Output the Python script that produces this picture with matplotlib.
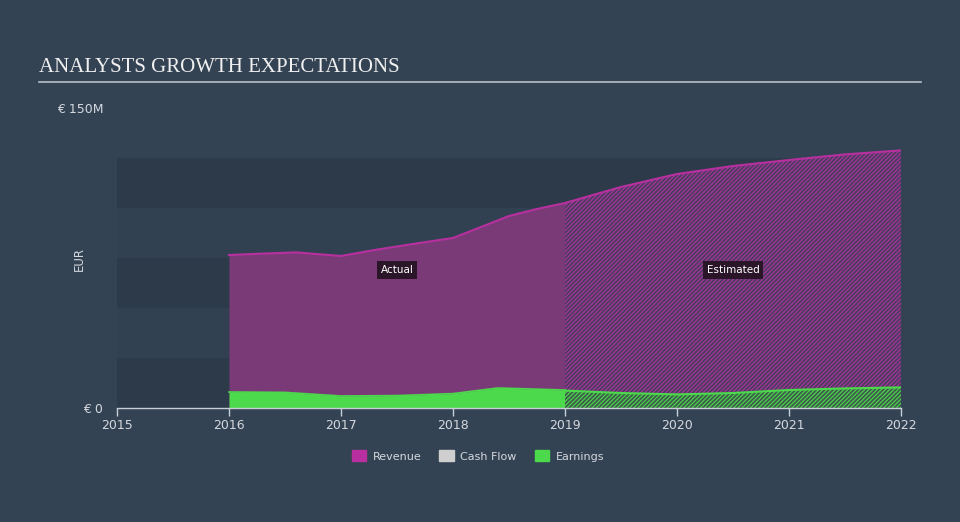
import matplotlib
matplotlib.use("Agg")
import matplotlib.pyplot as plt
from matplotlib.patches import Patch

# ---- data (EUR millions) ----
rev_actual_x = [2016.0, 2016.3, 2016.6, 2017.0, 2017.3, 2017.7, 2018.0, 2018.25, 2018.5, 2018.75, 2019.0]
rev_actual_y = [76.5, 77.2, 77.8, 76.0, 79.0, 82.5, 85.0, 90.5, 96.0, 99.5, 102.5]
rev_est_x = [2019.0, 2019.5, 2020.0, 2020.5, 2021.0, 2021.5, 2022.0]
rev_est_y = [102.5, 110.5, 117.0, 121.0, 124.0, 126.8, 128.8]

earn_actual_x = [2016.0, 2016.5, 2017.0, 2017.5, 2018.0, 2018.4, 2019.0]
earn_actual_y = [8.0, 7.8, 6.0, 6.2, 7.2, 10.0, 9.0]
earn_est_x = [2019.0, 2019.5, 2020.0, 2020.5, 2021.0, 2021.5, 2022.0]
earn_est_y = [8.7, 7.5, 6.8, 7.5, 9.0, 9.8, 10.3]

year_ticks = [2015, 2016, 2017, 2018, 2019, 2020, 2021, 2022]
y_tick_vals = [0, 150]
y_tick_labels = ["€ 0", "€ 150M"]
legend_labels = ["Revenue", "Cash Flow", "Earnings"]

# ---- style ----
BG = "#344354"
BAND_DARK = "#2d3a49"
TXT = "#d4d8de"
REV_LINE = "#b8309f"
REV_FILL = "#7a3a77"
REV_EST_FILL = "#4e3a5e"
EARN = "#4cd94c"
CF = "#cfcfcf"

plt.rcParams["hatch.linewidth"] = 0.9
fig = plt.figure(figsize=(9.6, 5.22), dpi=100, facecolor=BG)
ax = fig.add_axes([117/960, 1-408/522, (901-117)/960, (408-108)/522])
ax.set_facecolor(BG)
ax.set_xlim(2015, 2022)
ax.set_ylim(0, 150)

# background bands
for i, (lo, hi) in enumerate([(0, 25), (25, 50), (50, 75), (75, 100), (100, 125)]):
    c = BAND_DARK if i % 2 == 0 else "#324152"
    ax.axhspan(lo, hi, color=c, lw=0, zorder=0)

# revenue
ax.fill_between(rev_actual_x, 0, rev_actual_y, color=REV_FILL, lw=0, zorder=1)
ax.fill_between(rev_est_x, 0, rev_est_y, facecolor=REV_EST_FILL, edgecolor="#a0369a",
                hatch="/" * 8, lw=0, zorder=1)
ax.plot(rev_actual_x + rev_est_x[1:], rev_actual_y + rev_est_y[1:], color=REV_LINE, lw=1.5, zorder=3)

# earnings
ax.fill_between(earn_actual_x, 0, earn_actual_y, color=EARN, lw=0, zorder=2)
ax.fill_between(earn_est_x, 0, earn_est_y, facecolor="#3c5a4a", edgecolor="#4cd04c",
                hatch="/" * 8, lw=0, zorder=2)
ax.plot(earn_actual_x, earn_actual_y, color=EARN, lw=1.2, zorder=3)
ax.plot(earn_est_x, earn_est_y, color=EARN, lw=1.5, zorder=3)

# labels
box = dict(boxstyle="square,pad=0.35", fc="#2a1529", ec="none")
ax.text(2017.5, 69, "Actual", color="white", fontsize=7.5,
        ha="center", va="center", bbox=box, zorder=5)
ax.text(2020.5, 69, "Estimated", color="white", fontsize=7.5,
        ha="center", va="center", bbox=box, zorder=5)

# axes styling
for s in ["top", "right", "left"]:
    ax.spines[s].set_visible(False)
ax.spines["bottom"].set_color("#c8ced6")
ax.spines["bottom"].set_linewidth(1)
ax.set_xticks(year_ticks)
ax.set_xticklabels([str(y) for y in year_ticks])
ax.tick_params(axis="x", colors="#c8ced6", labelcolor=TXT, labelsize=9, length=6, width=1,
               direction="out", pad=2)
ax.set_yticks(y_tick_vals)
ax.set_yticklabels(y_tick_labels)
ax.tick_params(axis="y", length=0, labelcolor=TXT, labelsize=9, pad=10)
fig.text(79/960, 1-259/522, "EUR", color=TXT, fontsize=8.5, rotation=90,
         ha="center", va="center")

# title
fig.text(39/960, 1-67/522, "ANALYSTS GROWTH EXPECTATIONS", family="Liberation Serif",
         fontsize=15, color="#f0f0f0", va="center", ha="left")
fig.add_artist(plt.Line2D([39/960, 921/960], [1-82/522, 1-82/522], color="#b8c0c8", lw=1.2))

# legend
handles = [Patch(color=REV_LINE), Patch(color=CF), Patch(color=EARN)]
leg = fig.legend(handles, legend_labels, loc="center", bbox_to_anchor=(478/960, 1-456/522),
                 ncol=3, frameon=False, fontsize=8, handlelength=1.3, handleheight=1.1,
                 columnspacing=1.6, handletextpad=0.6)
for t in leg.get_texts():
    t.set_color(TXT)

fig.savefig("out.png", dpi=100, facecolor=BG)
